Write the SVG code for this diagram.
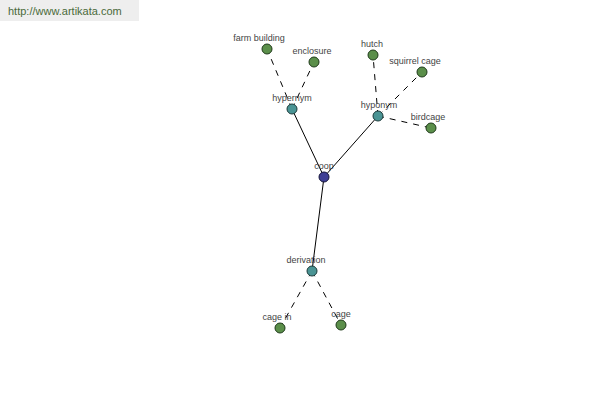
<svg xmlns="http://www.w3.org/2000/svg" width="600" height="400" viewBox="0 0 600 400">
<style>
.lbl{font-family:"Liberation Sans",Arial,sans-serif;font-size:9px;fill:#444;text-anchor:middle}
.leaf{fill:#5b8f4a;stroke:#1f3a1a;stroke-width:1}
.mid{fill:#4a9494;stroke:#1c3a3a;stroke-width:1}
.root{fill:#3f3f95;stroke:#15153a;stroke-width:1}
.solid{stroke:#000;stroke-width:1;fill:none}
.dash{stroke:#000;stroke-width:1;fill:none;stroke-dasharray:6,6}
</style>
<rect width="600" height="400" fill="#fff"/>
<rect x="0" y="0" width="139" height="21" fill="#eeeeee"/>
<text x="8" y="15" style="font-family:'Liberation Sans',Arial,sans-serif;font-size:11px;fill:#4a6a3a">http://www.artikata.com</text>
<g id="connectors">
<line class="solid" x1="324" y1="177" x2="292" y2="109"/>
<line class="solid" x1="324" y1="177" x2="378" y2="116"/>
<line class="solid" x1="324" y1="177" x2="312" y2="271"/>
<line class="dash" x1="292" y1="109" x2="267" y2="49"/>
<line class="dash" x1="292" y1="109" x2="314" y2="62"/>
<line class="dash" x1="378" y1="116" x2="373" y2="55"/>
<line class="dash" x1="378" y1="116" x2="422" y2="72"/>
<line class="dash" x1="378" y1="116" x2="431" y2="128"/>
<line class="dash" x1="312" y1="271" x2="280" y2="328"/>
<line class="dash" x1="312" y1="271" x2="341" y2="325"/>
</g>
<g id="farm_building"><circle class="leaf" cx="267" cy="49" r="5"/><text class="lbl" x="259" y="41">farm building</text></g>
<g id="enclosure"><circle class="leaf" cx="314" cy="62" r="5"/><text class="lbl" x="312" y="54">enclosure</text></g>
<g id="hutch"><circle class="leaf" cx="373" cy="55" r="5"/><text class="lbl" x="372" y="47">hutch</text></g>
<g id="squirrel_cage"><circle class="leaf" cx="422" cy="72" r="5"/><text class="lbl" x="415" y="64">squirrel cage</text></g>
<g id="birdcage"><circle class="leaf" cx="431" cy="128" r="5"/><text class="lbl" x="428" y="120">birdcage</text></g>
<g id="hypernym"><circle class="mid" cx="292" cy="109" r="5"/><text class="lbl" x="292" y="101">hypernym</text></g>
<g id="hyponym"><circle class="mid" cx="378" cy="116" r="5"/><text class="lbl" x="379" y="108">hyponym</text></g>
<g id="coop"><circle class="root" cx="324" cy="177" r="5"/><text class="lbl" x="324" y="169">coop</text></g>
<g id="derivation"><circle class="mid" cx="312" cy="271" r="5"/><text class="lbl" x="306" y="263">derivation</text></g>
<g id="cage_in"><circle class="leaf" cx="280" cy="328" r="5"/><text class="lbl" x="277" y="320">cage in</text></g>
<g id="cage"><circle class="leaf" cx="341" cy="325" r="5"/><text class="lbl" x="341" y="317">cage</text></g>
</svg>
